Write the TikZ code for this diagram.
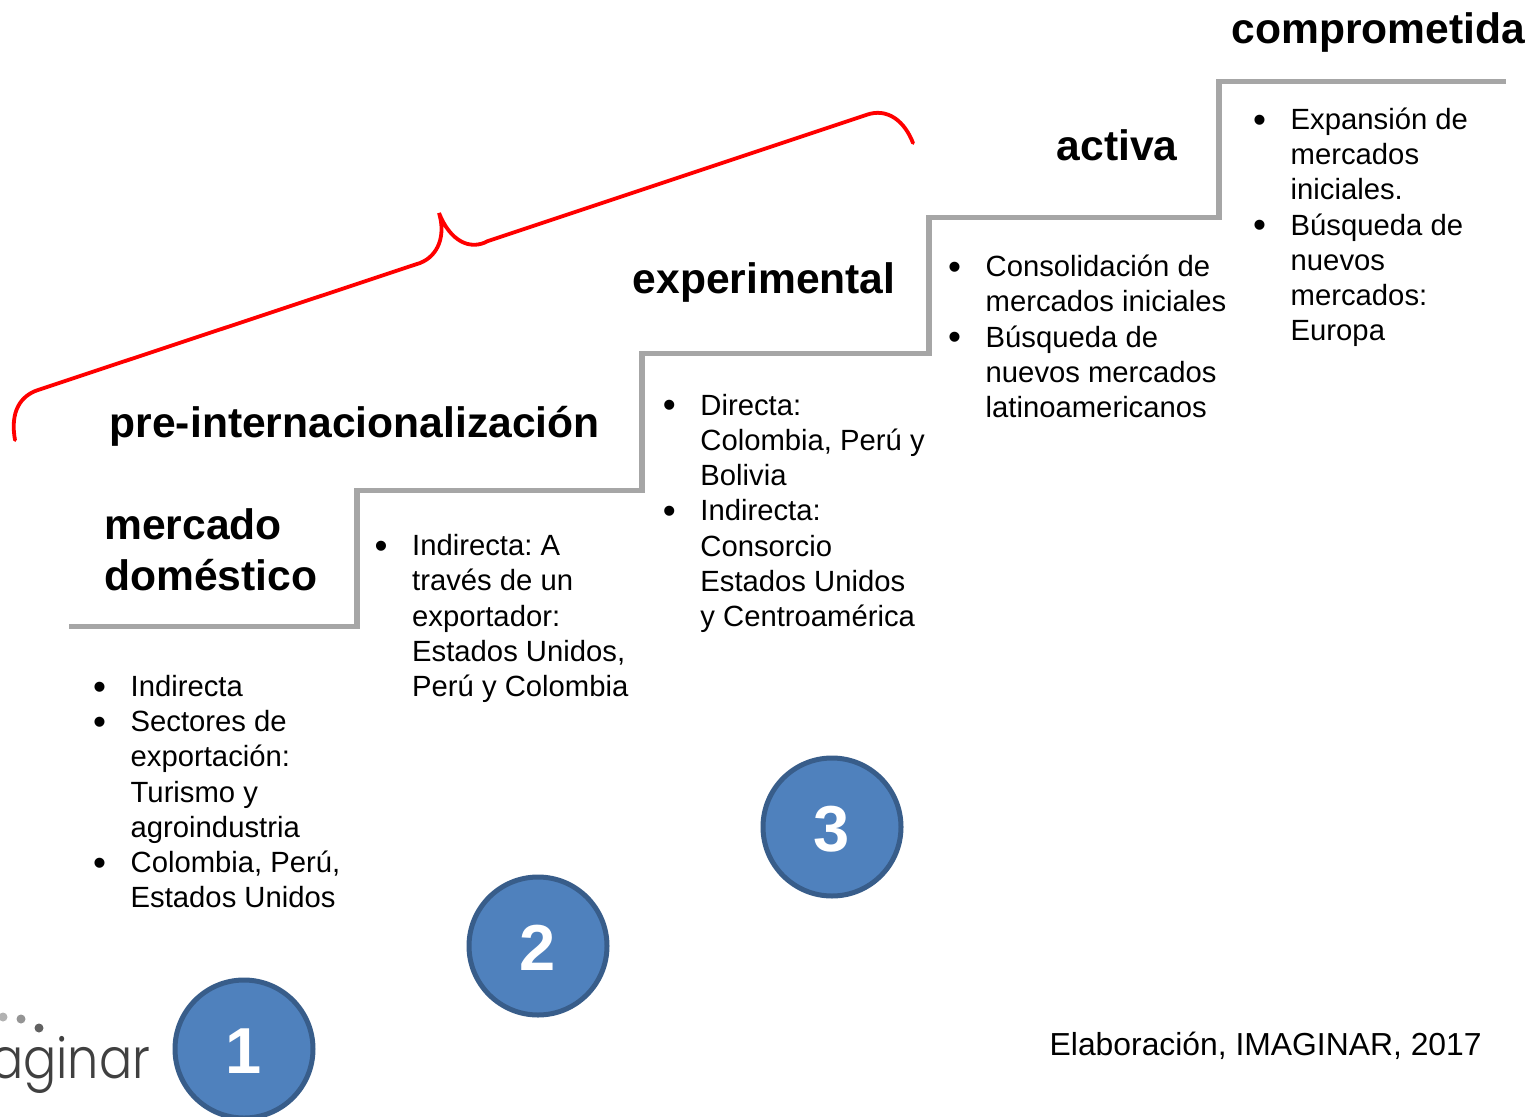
\documentclass[tikz,border=0pt]{standalone}
\usepackage{fontspec}
\setmainfont{Liberation Sans}
\newfontfamily\logofont{Poppins}[UprightFont=* Light]
\newcommand{\bl}{\leavevmode\llap{\makebox[37.5pt][l]{\raisebox{-2.6pt}{\fontsize{37}{35.2}\selectfont\textbullet}}}}
\newcommand{\fs}{\rule{0pt}{25pt}}
\definecolor{stair}{HTML}{A6A6A6}
\definecolor{discfill}{HTML}{4F81BD}
\definecolor{discline}{HTML}{385D8A}
\tikzset{
  x=1pt,y=-1pt,
  head/.style={anchor=base west,inner sep=0pt,font=\fontsize{42.6}{50}\selectfont\bfseries},
  body/.style={anchor=north west,inner sep=0pt,align=left,font=\fontsize{29.25}{35.2}\selectfont\frenchspacing},
  stairline/.style={draw=stair,line width=5.4pt,line join=miter},
  bracel/.style={draw=red,line width=3.8pt,line cap=round},
  disc/.style={circle,minimum size=138pt,inner sep=0pt,fill=discfill,draw=discline,line width=5pt,text=white,text height=48pt,text depth=0pt,font=\fontsize{65}{65}\selectfont\bfseries},
  dotl/.style={circle,inner sep=0pt,fill=#1,minimum size=9pt},
}
\begin{document}
\begin{tikzpicture}
\useasboundingbox (0,0) rectangle (1528,1116);
\clip (0,0) rectangle (1528,1116);

% stairs
\coordinate (s0) at (69,626.5);
\coordinate (s1) at (356.8,626.5);
\coordinate (s2) at (356.8,490.5);
\coordinate (s3) at (641.8,490.5);
\coordinate (s4) at (641.8,353.5);
\coordinate (s5) at (928.8,353.5);
\coordinate (s6) at (928.8,217.5);
\coordinate (s7) at (1218.8,217.5);
\coordinate (s8) at (1218.8,81.5);
\coordinate (s9) at (1506,81.5);
\draw[stairline] (s0)--(s1)--(s2)--(s3)--(s4)--(s5)--(s6)--(s7)--(s8)--(s9);

% brace
\coordinate (b0) at (15,440);
\coordinate (b1) at (38,390);
\coordinate (b2) at (420,263);
\coordinate (tip) at (439,213);
\coordinate (b3) at (488,241);
\coordinate (b4) at (866,115);
\coordinate (b5) at (913,143);
\draw[bracel] (b0) .. controls (10,412) and (20,396) .. (b1) -- (b2)
  .. controls (438,256) and (446,236) .. (tip)
  .. controls (450,241) and (470,251) .. (b3) -- (b4)
  .. controls (888,107) and (905,122) .. (b5);

% headings
\node[head] (hc) at (1231.5,43.5) {comprometida};
\node[head] (ha) at (1056.5,160) {activa};
\node[head] (he) at (632.5,293) {experimental};
\node[head] (hp) at (109.5,437) {pre-internacionalización};
\node[head] (hm1) at (104,539) {mercado};
\node[head] (hm2) at (104,590) {doméstico};

% bullet lists
\node[body] (t1) at (130.5,671.3) {\fs\bl Indirecta\\\bl Sectores de\\exportación:\\Turismo y\\agroindustria\\\bl Colombia, Perú,\\Estados Unidos};
\node[body] (t2) at (412,530.5) {\fs\bl Indirecta: A\\través de un\\exportador:\\Estados Unidos,\\Perú y Colombia};
\node[body] (t3) at (700.2,390) {\fs\bl Directa:\\Colombia, Perú y\\Bolivia\\\bl Indirecta:\\Consorcio\\Estados Unidos\\y Centroamérica};
\node[body] (t4) at (985.5,251.5) {\fs\bl Consolidación de\\mercados iniciales\\\bl Búsqueda de\\nuevos mercados\\latinoamericanos};
\node[body] (t5) at (1290.5,104.3) {\fs\bl Expansión de\\mercados\\iniciales.\\\bl Búsqueda de\\nuevos\\mercados:\\Europa};

% numbered discs
\node[disc] (d1) at (244,1049) {1};
\node[disc] (d2) at (538,946) {2};
\node[disc] (d3) at (832,827) {3};

% credit
\node[anchor=base west,inner sep=0pt,font=\fontsize{31.85}{38}\selectfont] (cred) at (1049.5,1055) {Elaboración, IMAGINAR, 2017};

% logo
\node[anchor=base west,inner sep=0pt,text=black!75,xscale=0.88,font=\logofont\fontsize{56}{56}\selectfont] (logo) at (-10,1078) {aginar};
\node[dotl=black!30] (l1) at (3,1017) {};
\node[dotl=black!42] (l2) at (21,1019) {};
\node[dotl=black!62] (l3) at (39,1028) {};
\end{tikzpicture}
\end{document}
